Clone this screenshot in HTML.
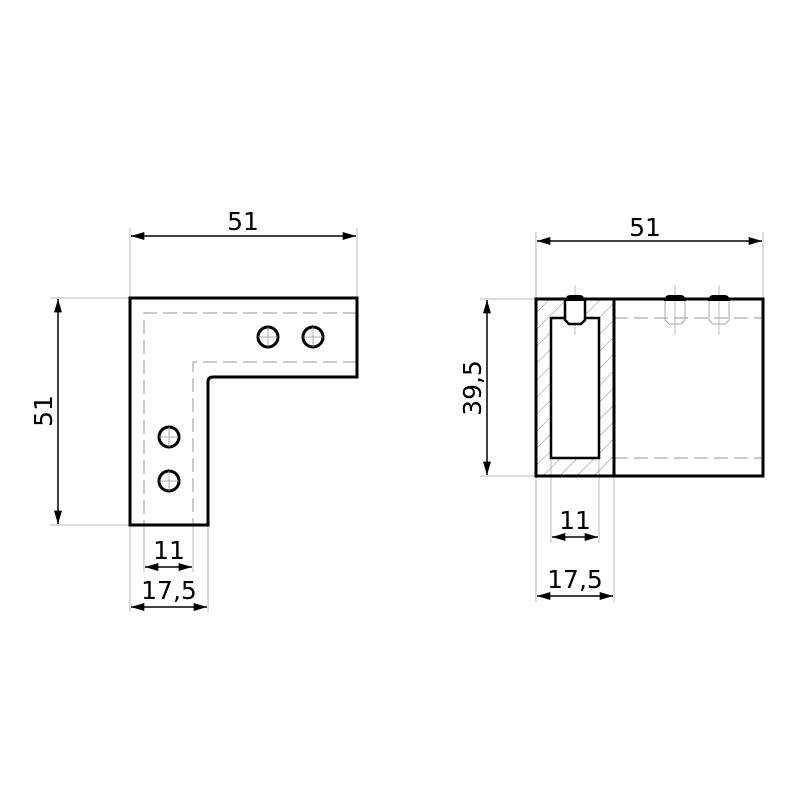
<!DOCTYPE html>
<html><head><style>body{margin:0;background:#fff}</style></head><body>
<svg width="800" height="800" viewBox="0 0 800 800" xmlns="http://www.w3.org/2000/svg" font-family="DejaVu Sans, sans-serif" font-size="25">
<defs>
<marker id="a" viewBox="0 0 10 6" refX="10" refY="3" markerWidth="15" markerHeight="8" markerUnits="userSpaceOnUse" orient="auto-start-reverse"><path d="M0,0L10,3L0,6z" fill="#000"/></marker>
<pattern id="h" width="12" height="12" patternUnits="userSpaceOnUse" patternTransform="rotate(45)"><line x1="0" y1="0" x2="0" y2="12" stroke="#999" stroke-width="1.2"/></pattern>
</defs>
<g stroke="#bbb" stroke-width="1" fill="none">
<line x1="130" y1="228" x2="130" y2="298"/><line x1="357" y1="228" x2="357" y2="298"/>
<line x1="50" y1="298" x2="130" y2="298"/><line x1="50" y1="525" x2="130" y2="525"/>
<line x1="130" y1="525" x2="130" y2="612"/><line x1="144" y1="525" x2="144" y2="572"/><line x1="193" y1="525" x2="193" y2="572"/><line x1="208" y1="525" x2="208" y2="612"/>
<line x1="536" y1="232" x2="536" y2="299"/><line x1="763" y1="232" x2="763" y2="299"/>
<line x1="480" y1="299" x2="536" y2="299"/><line x1="480" y1="476" x2="536" y2="476"/>
<line x1="536" y1="476" x2="536" y2="602"/><line x1="551" y1="458" x2="551" y2="543"/><line x1="599" y1="458" x2="599" y2="543"/><line x1="614" y1="476" x2="614" y2="602"/>
<line x1="575" y1="285" x2="575" y2="335"/><line x1="675" y1="285" x2="675" y2="335"/><line x1="719" y1="285" x2="719" y2="335"/>
</g>
<g stroke="#aaa" stroke-width="1.2" fill="none" stroke-dasharray="14,6">
<path d="M357,313H144V525"/><path d="M357,362H193V525"/>
<line x1="614" y1="318" x2="763" y2="318"/><line x1="614" y1="458" x2="763" y2="458"/>
</g>
<path d="M130,298H357V377H213Q208,377 208,382V525H130Z" fill="none" stroke="#000" stroke-width="3"/>
<g fill="none" stroke="#000" stroke-width="3">
<circle cx="268" cy="337" r="10"/><circle cx="313" cy="337" r="10"/><circle cx="169" cy="437" r="10"/><circle cx="169" cy="481" r="10"/>
</g>
<g stroke="#999" stroke-width="0.8">
<path d="M258,337h20M268,327v20M303,337h20M313,327v20M159,437h20M169,427v20M159,481h20M169,471v20"/>
</g>
<path d="M536,299H614V476H536Z M551,318V458H599V318Z" fill="url(#h)" fill-rule="evenodd"/>
<rect x="536" y="299" width="227" height="177" fill="none" stroke="#000" stroke-width="3"/>
<line x1="614" y1="299" x2="614" y2="476" stroke="#000" stroke-width="3"/>
<rect x="551" y="318" width="48" height="140" fill="none" stroke="#000" stroke-width="2.5"/>
<path d="M565,299V320L569,324H581L585,320V299" fill="#fff" stroke="#000" stroke-width="2.5"/>
<path d="M565,301Q566,295 570,295H580Q584,295 585,301Z" fill="#000"/>
<g fill="none" stroke="#aaa" stroke-width="1">
<path d="M665,300V320L669,324H681L685,320V300"/><path d="M709,300V320L713,324H725L729,320V300"/>
</g>
<path d="M664,301Q665,295 669,295H681Q685,295 686,301Z" fill="#000"/>
<path d="M708,301Q709,295 713,295H725Q729,295 730,301Z" fill="#000"/>
<g stroke="#000" stroke-width="1.5" marker-start="url(#a)" marker-end="url(#a)">
<line x1="131" y1="236" x2="356" y2="236"/>
<line x1="58" y1="299" x2="58" y2="524"/>
<line x1="145" y1="567" x2="192" y2="567"/>
<line x1="131" y1="607" x2="207" y2="607"/>
<line x1="537" y1="241" x2="762" y2="241"/>
<line x1="487" y1="300" x2="487" y2="475"/>
<line x1="552" y1="537" x2="598" y2="537"/>
<line x1="537" y1="596" x2="613" y2="596"/>
</g>
<g text-anchor="middle">
<text x="243" y="230">51</text>
<text x="0" y="0" transform="translate(52,411) rotate(-90)">51</text>
<text x="169" y="559">11</text>
<text x="169" y="599">17,5</text>
<text x="645" y="236">51</text>
<text x="0" y="0" transform="translate(481,388) rotate(-90)">39,5</text>
<text x="575" y="529">11</text>
<text x="575" y="588">17,5</text>
</g>
</svg>
</body></html>
